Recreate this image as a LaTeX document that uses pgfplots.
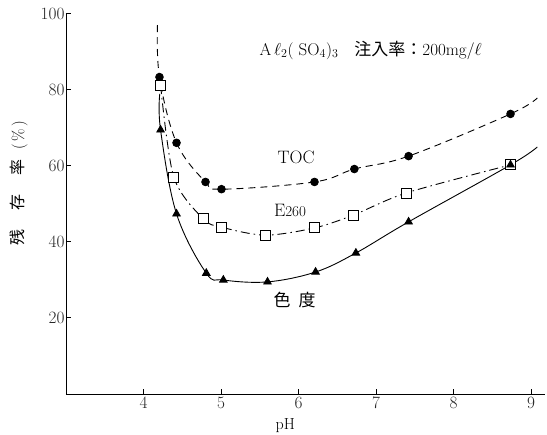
\documentclass[border=0pt]{standalone}
\usepackage{pgfplots}
\pgfplotsset{compat=1.18}
\usepackage{fontspec}
\newfontfamily\cjk{Noto Sans CJK JP}
\begin{document}
\begin{tikzpicture}
\path[use as bounding box] (-66pt,-41pt) rectangle (481pt,394pt);
\begin{axis}[
  at={(0,0)}, anchor=south west,
  scale only axis, width=479pt, height=380pt,
  xmin=3, xmax=9.18, ymin=0, ymax=100,
  axis x line*=bottom, axis y line*=left,
  xtick={4,5,6,7,8,9}, ytick={20,40,60,80,100},
  tick align=inside, major tick length=5pt,
  tick style={line width=1pt, black},
  axis line style={line width=0.9pt},
  ticklabel style={font=\fontsize{17}{20}\selectfont, text=black!85},
  yticklabel style={xshift=2pt},
  clip=false,
]
% TOC
\addplot[black, line width=0.9pt, dash pattern=on 7pt off 5pt, smooth, tension=0.6,
  mark=*, mark size=3.8pt, mark options={solid}, mark indices={2,...,9}] coordinates {
  (4.18,97.1) (4.206,83.4) (4.426,66.1) (4.80,55.8) (5.006,53.9) (6.206,55.8) (6.72,59.2) (7.42,62.6) (8.735,73.7) (9.08,77.9)};
% E260
\addplot[black, line width=0.9pt, dash pattern=on 9pt off 4pt on 1.5pt off 4pt, smooth, tension=0.5,
  mark=square*, mark size=5pt, mark options={solid, fill=white, line width=0.9pt}] coordinates {
  (4.22,81.3) (4.39,57.1) (4.77,46.1) (5.006,43.9) (5.57,41.8) (6.206,43.7) (6.71,47.1) (7.39,52.9) (8.735,60.3)};
% color
\addplot[black, line width=0.9pt, smooth, tension=0.6,
  mark=triangle*, mark size=4.3pt, mark indices={2,...,10}] coordinates {
  (4.21,79) (4.22,69.5) (4.426,47.4) (4.81,31.8) (5.03,30.0) (5.6,29.5) (6.22,32.1) (6.74,37.1) (7.42,45.3) (8.735,60.3) (9.08,65.0)};

\node[font=\fontsize{18}{20}\selectfont] at (axis cs:5.97,62.4) {TOC};
\node[font=\fontsize{18}{20}\selectfont] at (axis cs:5.89,48.2) {E{\fontsize{15}{17}\selectfont 260}};
\node[font=\fontsize{17}{20}\selectfont\cjk] at (axis cs:5.95,24.7) {色\hspace{8pt}度};
\node[font=\fontsize{17}{20}\selectfont] at (axis cs:6.93,90.5) {A\,$\ell_2$( SO$_4$)$_3$\hspace{16pt}{\cjk 注入率：}200mg/$\ell$};
\node[font=\fontsize{16}{19}\selectfont] at (axis cs:5.83,-8.2) {pH};
\node[rotate=90, font=\fontsize{16}{19}\selectfont] at (axis cs:2.39,55.5) {{\cjk 残}\hspace{19pt}{\cjk 存}\hspace{19pt}{\cjk 率}\hspace{10pt}(\,\%\,)};
\end{axis}
\end{tikzpicture}
\end{document}
